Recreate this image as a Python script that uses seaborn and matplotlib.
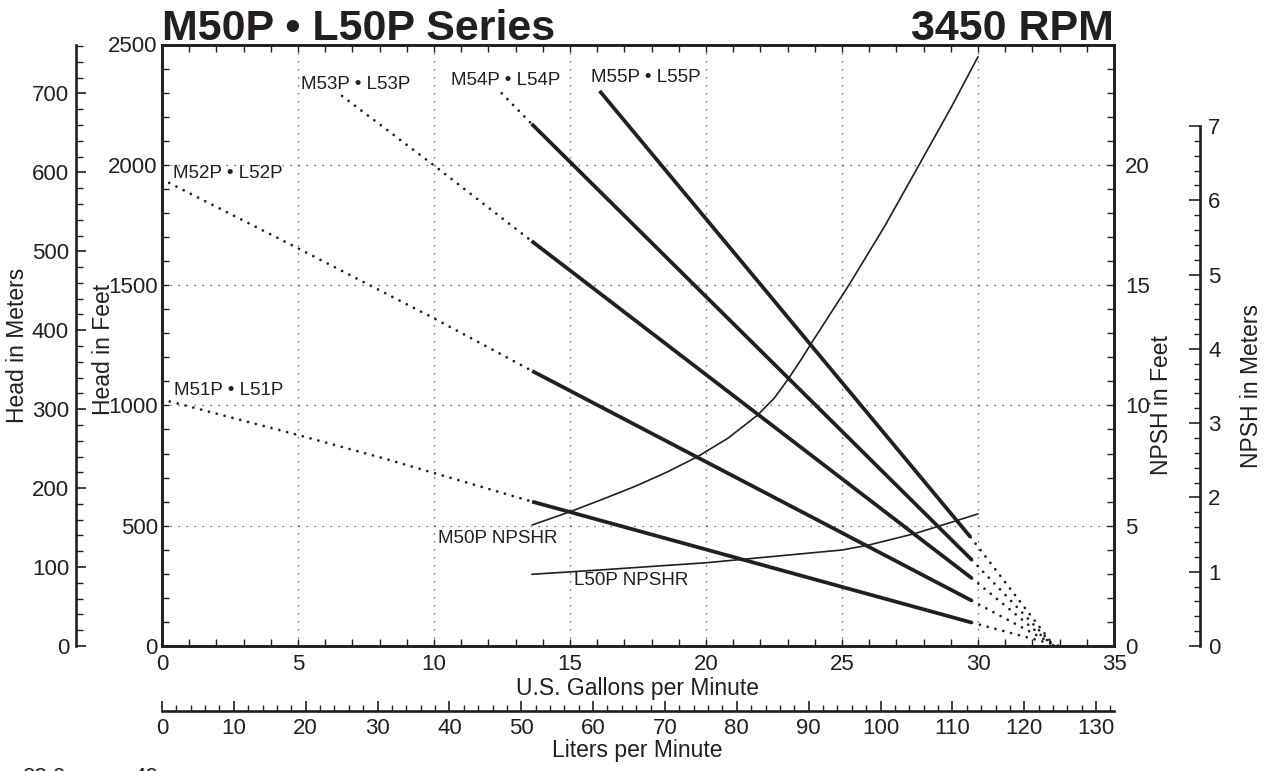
import numpy as np
import pandas as pd
import matplotlib
matplotlib.use("Agg")
import matplotlib.pyplot as plt
import seaborn as sns
from matplotlib.ticker import MultipleLocator, FixedLocator

# ---------------- data ----------------
MODELS = ["M51P • L51P", "M52P • L52P", "M53P • L53P", "M54P • L54P", "M55P • L55P"]

GPM_M51 = [0, 5, 8.15, 13.61, 29.78, 33.0]
FT_M51 = [1025, 877, 780, 600, 97, 0]
GPM_M52 = [0, 5, 10, 13.61, 29.78, 32.9]
FT_M52 = [1940, 1653, 1362, 1143, 188, 0]
GPM_M53 = [6.62, 9.9, 13.59, 29.78, 32.8]
FT_M53 = [2286, 2006, 1683, 281, 0]
GPM_M54 = [12.49, 13.59, 29.78, 32.8]
FT_M54 = [2297, 2170, 357, 0]
GPM_M55 = [16.09, 29.73, 32.8]
FT_M55 = [2307, 452, 0]

SOLID_START = [13.61, 13.61, 13.59, 13.59, 16.09]
SOLID_END = [29.78, 29.78, 29.78, 29.78, 29.73]

M50_NPSHR_GPM = [13.61, 15.0, 16.13, 17.36, 18.59, 19.69, 20.8, 21.9, 22.51, 23.0,
                 23.49, 23.95, 25.27, 26.56, 27.85, 29.02, 30.0]
M50_NPSHR_FT = [5.03, 5.58, 6.07, 6.62, 7.24, 7.87, 8.63, 9.6, 10.3, 11.06,
                11.89, 12.72, 15.03, 17.43, 20.03, 22.4, 24.49]
L50_NPSHR_GPM = [13.6, 16.1, 20, 25, 26.0, 27.7, 29.1, 30.0]
L50_NPSHR_FT = [2.98, 3.16, 3.46, 3.99, 4.2, 4.68, 5.17, 5.49]

GPM_TICKS = [0, 5, 10, 15, 20, 25, 30, 35]
HEAD_FT_TICKS = [0, 500, 1000, 1500, 2000, 2500]
NPSH_FT_TICKS = [0, 5, 10, 15, 20]
HEAD_M_TICKS = [0, 100, 200, 300, 400, 500, 600, 700]
NPSH_M_TICKS = [0, 1, 2, 3, 4, 5, 6, 7]
LPM_TICKS = [0, 10, 20, 30, 40, 50, 60, 70, 80, 90, 100, 110, 120, 130]

GAL_TO_L = 3.78541
FT_PER_M = 3.28084

# label anchor positions (gpm, feet)
MODEL_LABEL_POS = [(0.45, 1061), (0.41, 1962), (5.11, 2332), (10.64, 2350), (15.76, 2363)]

# ---------------- style ----------------
sns.set_theme(style="ticks")
plt.rcParams["font.family"] = ["Liberation Sans", "DejaVu Sans"]
INK = "#231F20"
plt.rcParams["text.color"] = INK
plt.rcParams["axes.edgecolor"] = INK
plt.rcParams["xtick.color"] = INK
plt.rcParams["ytick.color"] = INK

W, H = 1272, 771
fig = plt.figure(figsize=(W / 100, H / 100), dpi=100)
fig.patch.set_facecolor("white")


def fx(px):
    return px / W


def fy(py):
    return 1 - py / H


X0, X1 = 162, 1114
YT, YB = 44.5, 646
AX_H = (YB - YT) / H

ax = fig.add_axes([fx(X0), fy(YB), (X1 - X0) / W, AX_H])
ax.set_facecolor("white")
ax.set_xlim(0, 35)
ax.set_ylim(0, 2500)

SPINE_LW = 1.9
for s in ax.spines.values():
    s.set_linewidth(SPINE_LW)
    s.set_color(INK)

# grid + ticks
ax.xaxis.set_major_locator(FixedLocator(GPM_TICKS))
ax.xaxis.set_minor_locator(MultipleLocator(1))
ax.yaxis.set_major_locator(FixedLocator(HEAD_FT_TICKS))
ax.yaxis.set_minor_locator(MultipleLocator(100))
ax.grid(True, which="major", color="#444444", linewidth=0.9, linestyle=(0, (1, 5.4)))
ax.tick_params(which="both", direction="in", length=5, width=1.0, top=True, right=False,
               labelsize=16, pad=4)
ax.tick_params(axis="x", which="major", pad=6)
ax.tick_params(axis="y", which="major", pad=3)

# head curves
DOT = dict(linestyle=(0, (0.01, 2.9)), dash_capstyle="round", linewidth=2.0)
SOLID = dict(linestyle="-", linewidth=2.7, solid_capstyle="butt")
curves = [(GPM_M51, FT_M51), (GPM_M52, FT_M52), (GPM_M53, FT_M53),
          (GPM_M54, FT_M54), (GPM_M55, FT_M55)]
for (g, f), s0, s1, name, pos in zip(curves, SOLID_START, SOLID_END, MODELS, MODEL_LABEL_POS):
    df = pd.DataFrame({"gpm": g, "ft": f})
    low = df[df.gpm <= s0]
    mid = df[(df.gpm >= s0) & (df.gpm <= s1)]
    high = df[df.gpm >= s1]
    if len(low) > 1:
        sns.lineplot(data=low, x="gpm", y="ft", ax=ax, color=INK, sort=False,
                     estimator=None, legend=False, **DOT)
    sns.lineplot(data=mid, x="gpm", y="ft", ax=ax, color=INK, sort=False,
                 estimator=None, legend=False, **SOLID)
    sns.lineplot(data=high, x="gpm", y="ft", ax=ax, color=INK, sort=False,
                 estimator=None, legend=False, **DOT)
    ax.text(pos[0], pos[1], name, ha="left", va="center", fontsize=13.5, color=INK)

ax.set_xlabel("")
ax.set_ylabel("")

# NPSH feet twin axis
ax2 = ax.twinx()
ax2.set_ylim(0, 25)
ax2.yaxis.set_major_locator(FixedLocator(NPSH_FT_TICKS))
ax2.yaxis.set_minor_locator(MultipleLocator(1))
ax2.tick_params(which="both", direction="in", length=5, width=1.0, labelsize=16, pad=8)
for s in ax2.spines.values():
    s.set_linewidth(SPINE_LW)
    s.set_color(INK)
npshr = pd.DataFrame({"gpm": M50_NPSHR_GPM, "npsh": M50_NPSHR_FT})
sns.lineplot(data=npshr, x="gpm", y="npsh", ax=ax2, color=INK, linewidth=1.2,
             sort=False, estimator=None, legend=False)
npshr_l = pd.DataFrame({"gpm": L50_NPSHR_GPM, "npsh": L50_NPSHR_FT})
sns.lineplot(data=npshr_l, x="gpm", y="npsh", ax=ax2, color=INK, linewidth=1.2,
             sort=False, estimator=None, legend=False)
ax2.text(10.13, 4.45, "M50P NPSHR", ha="left", va="center", fontsize=13.5, color=INK)
ax2.text(15.15, 2.73, "L50P NPSHR", ha="left", va="center", fontsize=13.5, color=INK)
ax2.set_ylabel("")
ax2.set_xlabel("")

# ---------------- Head in Meters axis (far left) ----------------
axm = fig.add_axes([fx(76), fy(YB), 0.0008, AX_H])
axm.patch.set_visible(False)
for k in ["top", "right", "bottom"]:
    axm.spines[k].set_visible(False)
axm.spines["left"].set_linewidth(SPINE_LW)
axm.spines["left"].set_color(INK)
axm.set_ylim(0, 2500 / FT_PER_M)
axm.set_xticks([])
axm.yaxis.set_major_locator(FixedLocator(HEAD_M_TICKS))
axm.yaxis.set_minor_locator(MultipleLocator(20))
axm.tick_params(axis="y", which="major", direction="in", length=7, width=1.2, labelsize=16, pad=5)
axm.tick_params(axis="y", which="minor", direction="in", length=5, width=1.0)

# ---------------- NPSH in Meters axis (far right) ----------------
axn = fig.add_axes([fx(1200) - 0.0008, fy(YB), 0.0008, AX_H])
axn.patch.set_visible(False)
for k in ["top", "left", "bottom"]:
    axn.spines[k].set_visible(False)
axn.spines["right"].set_linewidth(SPINE_LW)
axn.spines["right"].set_color(INK)
axn.set_ylim(0, 7 * (YB - YT) / (YB - 126))
axn.spines["right"].set_bounds(0, 7)
axn.set_xticks([])
axn.yaxis.tick_right()
axn.yaxis.set_major_locator(FixedLocator(NPSH_M_TICKS))
axn.yaxis.set_minor_locator(FixedLocator(np.arange(0, 7.001, 0.2)))
axn.tick_params(axis="y", which="major", direction="in", length=8, width=1.2, labelsize=16, pad=6)
axn.tick_params(axis="y", which="minor", direction="in", length=4.5, width=1.0)

# ---------------- Liters per Minute axis (bottom) ----------------
axl = fig.add_axes([fx(X0), fy(711), (X1 - X0) / W, 0.0008])
axl.patch.set_visible(False)
for k in ["top", "left", "right"]:
    axl.spines[k].set_visible(False)
axl.spines["bottom"].set_linewidth(SPINE_LW)
axl.spines["bottom"].set_color(INK)
axl.set_xlim(0, 35 * GAL_TO_L)
axl.set_yticks([])
axl.xaxis.set_major_locator(FixedLocator(LPM_TICKS))
axl.xaxis.set_minor_locator(MultipleLocator(2))
axl.tick_params(axis="x", which="major", direction="in", length=7, width=1.2, labelsize=16, pad=5)
axl.tick_params(axis="x", which="minor", direction="in", length=4, width=1.0)

# ---------------- axis titles ----------------
LAB = dict(fontsize=16.5, color=INK, ha="center", va="center")
fig.text(fx(637), fy(688), "U.S. Gallons per Minute", **LAB)
fig.text(fx(637), fy(750), "Liters per Minute", **LAB)
fig.text(fx(18), fy(345), "Head in Meters", rotation=90, **LAB)
fig.text(fx(103), fy(349), "Head in Feet", rotation=90, **LAB)
fig.text(fx(1162), fy(405), "NPSH in Feet", rotation=90, **LAB)
fig.text(fx(1251), fy(386), "NPSH in Meters", rotation=90, **LAB)

# ---------------- titles ----------------
fig.text(fx(162), fy(40), "M50P • L50P Series", ha="left", va="baseline",
         fontsize=31, fontweight="bold", color=INK)
fig.text(fx(1114), fy(40), "3450 RPM", ha="right", va="baseline",
         fontsize=31, fontweight="bold", color=INK)

# text cut by the bottom edge of the page, as in the reference
fig.text(fx(23), fy(767), "22.0", ha="left", va="top", fontsize=16, color=INK)
fig.text(fx(133), fy(767), "40", ha="left", va="top", fontsize=16, color=INK)

fig.savefig("out.png", dpi=100, facecolor="white")
